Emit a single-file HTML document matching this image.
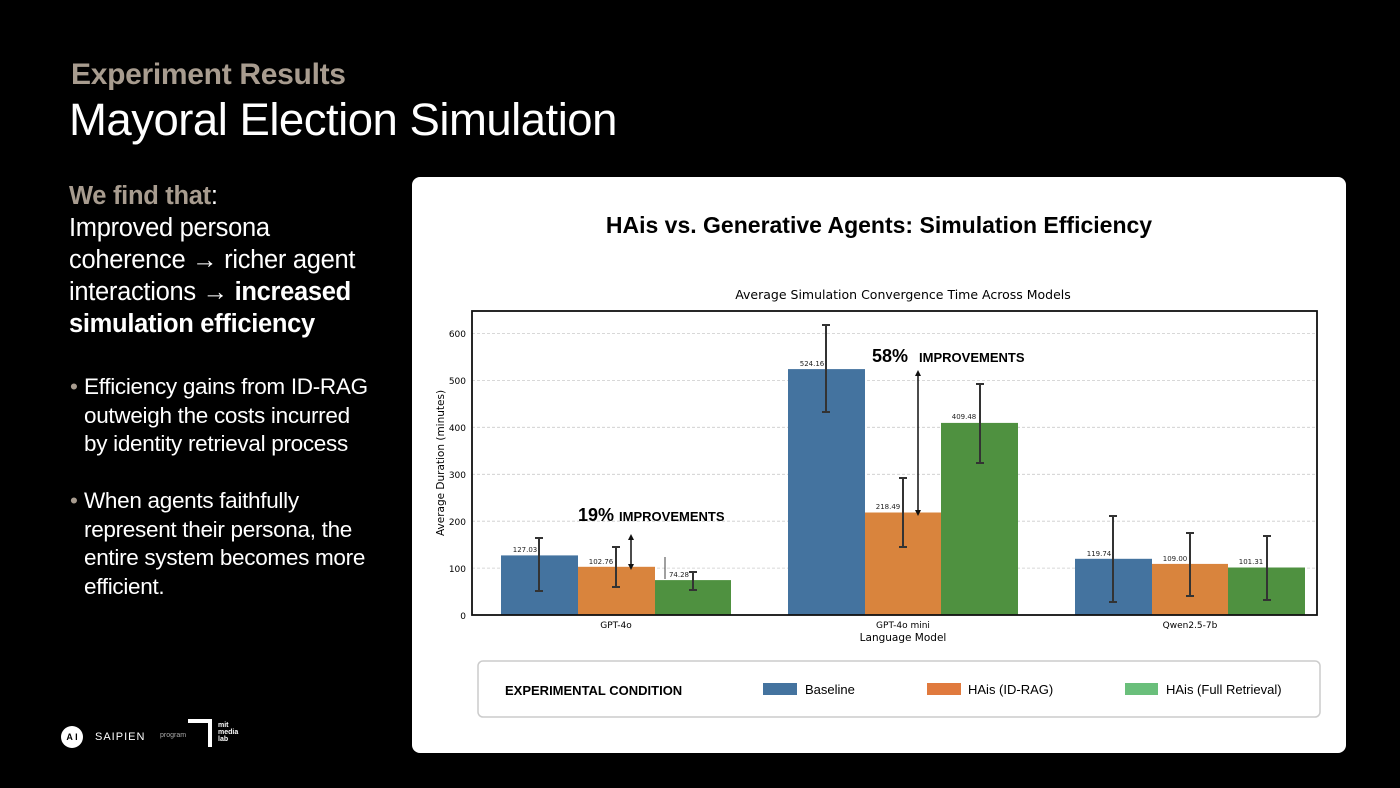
<!DOCTYPE html>
<html><head><meta charset="utf-8"><style>
body{margin:0;width:1400px;height:788px;background:#000;overflow:hidden;font-family:"Liberation Sans",sans-serif;position:relative}
.t1{position:absolute;left:71px;top:58px;font-size:30px;font-weight:bold;color:#a89c8f;letter-spacing:-0.3px}
.t2{position:absolute;left:69px;top:94px;font-size:45.5px;color:#fff;letter-spacing:-0.5px}
.lead{position:absolute;left:69px;top:180px;font-size:25.5px;line-height:32px;color:#fff;width:310px;letter-spacing:-0.3px}
.b{position:absolute;left:72px;font-size:22.5px;line-height:28.5px;color:#fff;width:300px;letter-spacing:-0.3px}
.b span{position:absolute;left:-2px}
.card{position:absolute;left:412px;top:177px;width:934px;height:576px;background:#fff;border-radius:8px}
</style></head><body>
<div class="t1">Experiment Results</div>
<div class="t2">Mayoral Election Simulation</div>
<div class="lead"><b style="color:#a89c8f">We find that</b>:<br>Improved persona coherence → richer agent interactions → <b>increased simulation efficiency</b></div>
<div class="b" style="top:373px"><span style="color:#a89c8f">•</span><div style="margin-left:12px">Efficiency gains from ID-RAG outweigh the costs incurred by identity retrieval process</div></div>
<div class="b" style="top:487px"><span style="color:#a89c8f">•</span><div style="margin-left:12px">When agents faithfully represent their persona, the entire system becomes more efficient.</div></div>
<div style="position:absolute;left:61px;top:726px;width:22px;height:22px;border-radius:50%;background:#fff;color:#000;font-size:9px;font-weight:bold;text-align:center;line-height:22px">A I</div>
<div style="position:absolute;left:95px;top:731px;color:#fff;font-size:11px;letter-spacing:1px">SAIPIEN</div>
<div style="position:absolute;left:160px;top:732px;color:#aaa;font-size:7px">program</div>
<div style="position:absolute;left:188px;top:719px;width:20px;height:24px;border:4px solid #fff;border-left:none;border-bottom:none"></div>
<div style="position:absolute;left:218px;top:722px;color:#fff;font-size:7px;font-weight:bold;line-height:7px">mit<br>media<br>lab</div>
<div class="card"></div>
<svg style="position:absolute;left:0;top:0" width="1400" height="788" font-family="Liberation Sans, DejaVu Sans, sans-serif">
<text x="879" y="233" text-anchor="middle" font-size="23" font-weight="bold">HAis vs. Generative Agents: Simulation Efficiency</text>
<text x="903" y="299" text-anchor="middle" font-size="12.5" font-family="DejaVu Sans, sans-serif">Average Simulation Convergence Time Across Models</text>
<g stroke="#ccc" stroke-dasharray="3,2" stroke-width="0.8">
<line x1="472" x2="1317" y1="568.1" y2="568.1"/><line x1="472" x2="1317" y1="521.2" y2="521.2"/><line x1="472" x2="1317" y1="474.3" y2="474.3"/><line x1="472" x2="1317" y1="427.3" y2="427.3"/><line x1="472" x2="1317" y1="380.4" y2="380.4"/><line x1="472" x2="1317" y1="333.5" y2="333.5"/></g>
<g font-size="9" text-anchor="end" font-family="DejaVu Sans, sans-serif"><text x="466" y="619">0</text><text x="466" y="572">100</text><text x="466" y="525">200</text><text x="466" y="478">300</text><text x="466" y="431">400</text><text x="466" y="384">500</text><text x="466" y="337">600</text></g>
<text transform="translate(444,463) rotate(-90)" text-anchor="middle" font-size="10.5" font-family="DejaVu Sans, sans-serif">Average Duration (minutes)</text>
<g>
<rect x="501" y="555.4" width="77" height="59.6" fill="#44739f"/><rect x="578" y="566.8" width="77" height="48.2" fill="#d9843d"/><rect x="655" y="580.1" width="76" height="34.9" fill="#4f9140"/>
<rect x="788" y="369.1" width="77" height="245.9" fill="#44739f"/><rect x="865" y="512.5" width="76" height="102.5" fill="#d9843d"/><rect x="941" y="422.9" width="77" height="192.1" fill="#4f9140"/>
<rect x="1075" y="558.8" width="77" height="56.2" fill="#44739f"/><rect x="1152" y="563.9" width="76" height="51.1" fill="#d9843d"/><rect x="1228" y="567.5" width="77" height="47.5" fill="#4f9140"/>
</g>
<g stroke="#333" stroke-width="2">
<path d="M539 538V591M535 538h8M535 591h8"/><path d="M616 547V587M612 547h8M612 587h8"/><path d="M693 572V590M689 572h8M689 590h8"/>
<path d="M826 325V412M822 325h8M822 412h8"/><path d="M903 478V547M899 478h8M899 547h8"/><path d="M980 384V463M976 384h8M976 463h8"/>
<path d="M1113 516V602M1109 516h8M1109 602h8"/><path d="M1190 533V596M1186 533h8M1186 596h8"/><path d="M1267 536V600M1263 536h8M1263 600h8"/>
</g>
<g font-size="7" text-anchor="middle" font-family="DejaVu Sans, sans-serif" fill="#222"><text x="525" y="552">127.03</text><text x="601" y="564">102.76</text><text x="679" y="577">74.28</text><text x="812" y="366">524.16</text><text x="888" y="509">218.49</text><text x="964" y="419">409.48</text><text x="1099" y="556">119.74</text><text x="1175" y="561">109.00</text><text x="1251" y="564">101.31</text></g>
<rect x="472" y="311" width="845" height="304" fill="none" stroke="#111" stroke-width="1.8"/>
<g stroke="#111" stroke-width="1.5"><line x1="631" y1="537" x2="631" y2="567"/><line x1="918" y1="373" x2="918" y2="513"/></g>
<g fill="#111"><path d="M631 534l-3 6h6z"/><path d="M631 570l-3 -6h6z"/><path d="M918 370l-3 6h6z"/><path d="M918 516l-3 -6h6z"/></g>
<g stroke="#111" stroke-width="0.8"><line x1="665" y1="557" x2="665" y2="579"/></g>
<text x="578" y="521" font-size="18" font-weight="bold">19% <tspan font-size="13">IMPROVEMENTS</tspan></text>
<text x="872" y="362" font-size="18" font-weight="bold">58% <tspan font-size="13" dx="6">IMPROVEMENTS</tspan></text>
<g font-size="9" text-anchor="middle" font-family="DejaVu Sans, sans-serif"><text x="616" y="628">GPT-4o</text><text x="903" y="628">GPT-4o mini</text><text x="1190" y="628">Qwen2.5-7b</text></g>
<text x="903" y="641" text-anchor="middle" font-size="10.5" font-family="DejaVu Sans, sans-serif">Language Model</text>
<rect x="478" y="661" width="842" height="56" rx="5" fill="#fff" stroke="#ccc" stroke-width="1.5"/>
<text x="505" y="695" font-size="13" font-weight="bold">EXPERIMENTAL CONDITION</text>
<rect x="763" y="683" width="34" height="12" fill="#44739f"/><text x="805" y="694" font-size="13">Baseline</text>
<rect x="927" y="683" width="34" height="12" fill="#e07a3e"/><text x="968" y="694" font-size="13">HAis (ID-RAG)</text>
<rect x="1125" y="683" width="33" height="12" fill="#6abf7b"/><text x="1166" y="694" font-size="13">HAis (Full Retrieval)</text>
</svg>
</body></html>
